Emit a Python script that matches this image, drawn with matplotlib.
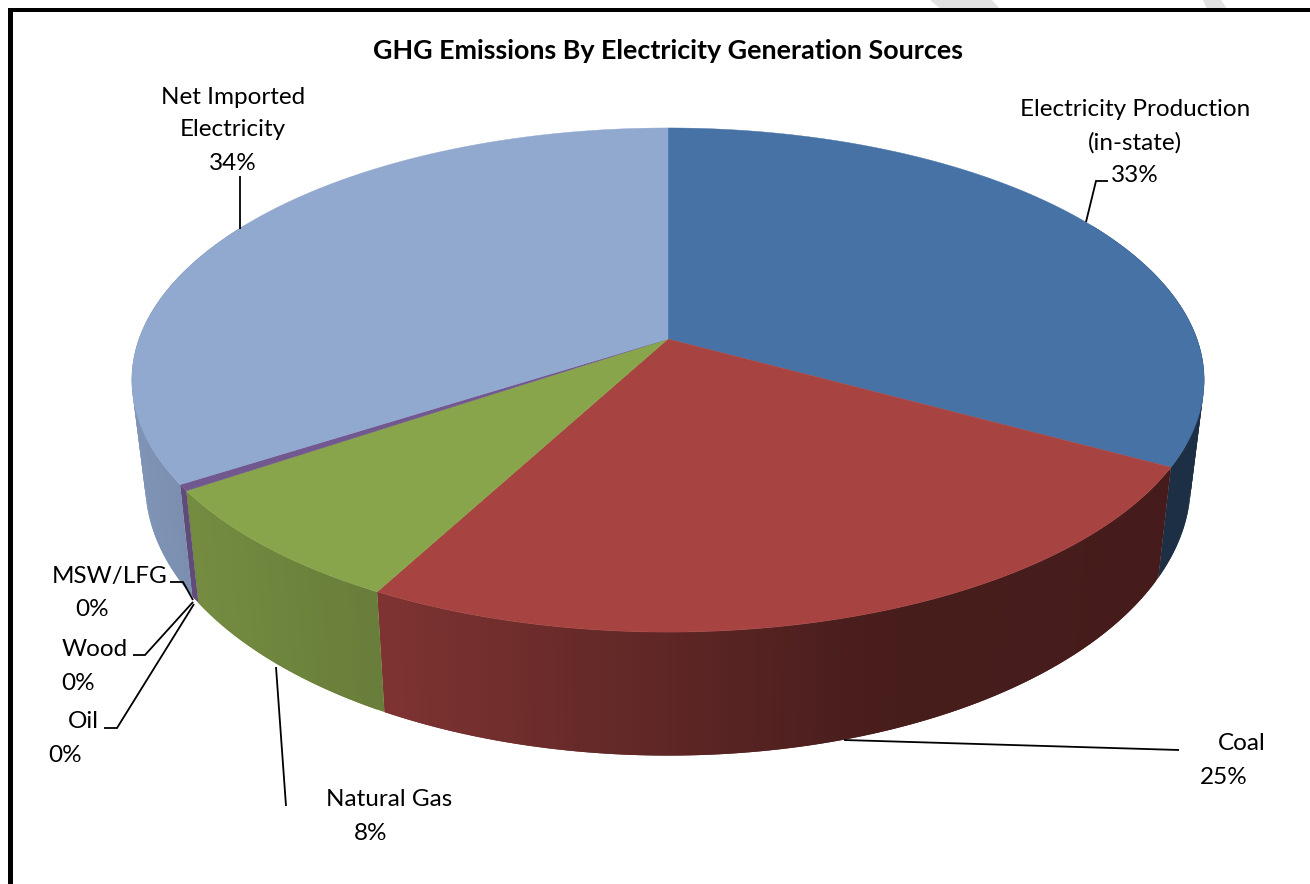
import numpy as np
import matplotlib
matplotlib.use("Agg")
import matplotlib.pyplot as plt
from matplotlib.patches import Polygon, Rectangle

# ---- data ----
categories = ["Electricity Production (in-state)", "Coal", "Natural Gas", "Oil", "Wood", "MSW/LFG", "Net Imported Electricity"]
values = [33.0, 24.8, 7.7, 0.4, 0.0, 0.0, 34.1]
percent_labels = ["33%", "25%", "8%", "0%", "0%", "0%", "34%"]
colors = ["#4672A6", "#A74442", "#89A54C", "#71588F", "#4198AF", "#DB843D", "#91A8CF"]
title = "GHG Emissions By Electricity Generation Sources"

plt.rcParams["font.family"] = ["Lato", "DejaVu Sans"]
fig = plt.figure(figsize=(13.10, 8.84), dpi=100)
ax = fig.add_axes([0, 0, 1, 1])
ax.set_xlim(0, 1310)
ax.set_ylim(884, 0)
ax.axis("off")

# perspective projection of the pie disc
CX, CY, W, H, K = 668.0, 339.0, 529.0, 245.4, 0.1628
def top_xy(theta):
    u, v = np.sin(theta), np.cos(theta)
    d = 1 + K * v
    return CX + W * u / d, CY - H * v / d
def bottom_xy(theta):
    x, y = top_xy(theta)
    return CX + 0.975 * (x - CX), CY + 1.08 * (y - CY) + 100.0
def shade(x):
    return np.interp(x, [132, 185, 380, 668, 880, 1200], [0.88, 0.85, 0.76, 0.57, 0.43, 0.41])
def darken(col, f):
    return tuple(c * f for c in matplotlib.colors.to_rgb(col))

# grey stripes above the frame
for pts in [[(930, 0), (992, 0), (1000, 9), (941, 9)], [(1203, 0), (1221, 0), (1227, 9), (1207, 9)]]:
    ax.add_patch(Polygon(pts, closed=True, fc="#E2E2E2", ec="none", zorder=0))

edges = np.concatenate([[0], np.cumsum(values)]) / sum(values) * 2 * np.pi

# side walls: overlapping narrow strips, painted in order so no seams show
for i, col in enumerate(colors):
    a0, a1 = edges[i], edges[i + 1]
    a0v, a1v = max(a0, np.radians(60)), min(a1, np.radians(300))
    if a1v <= a0v:
        continue
    n = max(2, int((a1v - a0v) / np.radians(0.8)))
    th = np.linspace(a0v, a1v, n + 1)
    # painted from the far end back to the start so each strip overlaps the next
    for j in range(n - 1, -1, -1):
        t0 = th[j]
        t1 = th[min(j + 2, n)]
        tm = np.linspace(t0, t1, 5)
        xt, yt = top_xy(tm)
        xb, yb = bottom_xy(tm)
        pts = list(zip(xt, yt)) + list(zip(xb[::-1], yb[::-1]))
        xm = float(top_xy((th[j] + th[j + 1]) / 2)[0])
        c = darken(col, float(shade(xm)))
        ax.add_patch(Polygon(pts, closed=True, fc=c, ec="none", zorder=1))

# top faces
for i, col in enumerate(colors):
    a0, a1 = edges[i], edges[i + 1]
    if a1 - a0 <= 0:
        continue
    th = np.linspace(a0, a1, max(3, int((a1 - a0) / np.radians(0.5))))
    xs, ys = top_xy(th)
    pts = [(CX, CY)] + list(zip(xs, ys))
    ax.add_patch(Polygon(pts, closed=True, fc=col, ec=col, lw=0.3, zorder=2))

# frame
ax.add_patch(Rectangle((8, 8), 1302, 3.6, fc="black", ec="none", zorder=5))
ax.add_patch(Rectangle((8, 8), 4.6, 876, fc="black", ec="none", zorder=5))

# leader lines
leaders = [
    [(240, 176), (240, 229)],
    [(1086, 222), (1096, 181), (1108, 181)],
    [(170, 582), (183, 582), (193, 600)],
    [(133, 655), (145, 655), (193, 602)],
    [(104, 728), (117, 728), (194, 604)],
    [(276, 667), (286, 806)],
    [(844, 740), (1179, 750)],
]
for pts in leaders:
    xs, ys = zip(*pts)
    ax.plot(xs, ys, color="black", lw=1.3, solid_capstyle="butt", solid_joinstyle="miter", zorder=4)

# labels
FS = 17.5
labels = [
    ("Net Imported", 233, 97), ("Electricity", 233, 130), (percent_labels[6], 233, 163),
    ("Electricity Production", 1135, 110), ("(in-state)", 1135, 143), (percent_labels[0], 1135, 175),
    (categories[5], 110, 577), (percent_labels[5], 92, 610),
    (categories[4], 95, 650), (percent_labels[4], 78, 683),
    (categories[3], 83, 722), (percent_labels[3], 65, 755),
    (categories[2], 389, 800), (percent_labels[2], 371, 833),
    (categories[1], 1242, 744), (percent_labels[1], 1224, 777),
]
for s, x, y in labels:
    ax.text(x, y, s, ha="center", va="center", fontsize=FS, color="black", zorder=6)
ax.text(668, 51, title, ha="center", va="center", fontsize=19.4, fontweight="bold", color="black", zorder=6)

fig.savefig("out.png", dpi=100, facecolor="white")
